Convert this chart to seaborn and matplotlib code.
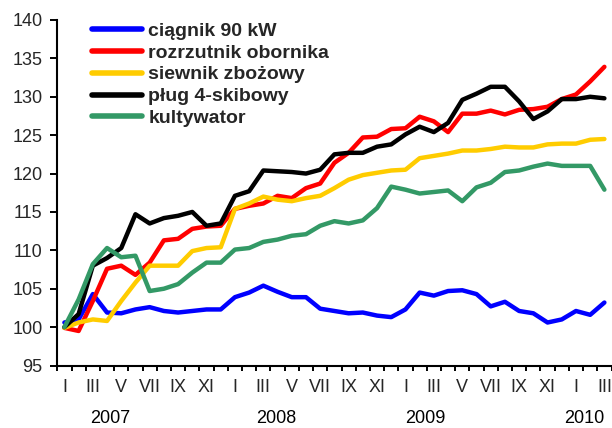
import numpy as np
import pandas as pd
import matplotlib
matplotlib.use("Agg")
import matplotlib.pyplot as plt
import seaborn as sns

# Monthly price indices of farm machinery, January 2007 = 100
series_names = ["ciągnik 90 kW", "rozrzutnik obornika", "siewnik zbożowy",
                "pług 4-skibowy", "kultywator"]

ciagnik = [100.6, 101.0, 104.3, 101.9, 101.8, 102.3, 102.6, 102.1, 101.9, 102.1,
           102.3, 102.3, 103.9, 104.5, 105.4, 104.6, 103.9, 103.9, 102.4, 102.1,
           101.8, 101.9, 101.5, 101.3, 102.3, 104.5, 104.1, 104.7, 104.8, 104.3,
           102.7, 103.3, 102.1, 101.8, 100.6, 101.0, 102.1, 101.6, 103.2]
rozrzutnik = [99.9, 99.5, 103.4, 107.6, 108.0, 106.8, 108.4, 111.3, 111.5, 112.8,
              113.1, 113.2, 115.4, 115.8, 116.1, 117.1, 116.8, 118.1, 118.7, 121.4,
              122.7, 124.7, 124.8, 125.8, 125.9, 127.4, 126.8, 125.4, 127.8, 127.8,
              128.2, 127.7, 128.3, 128.4, 128.7, 129.7, 130.3, 132.0, 133.9]
siewnik = [99.9, 100.6, 101.0, 100.8, 103.4, 105.8, 108.0, 108.0, 108.0, 109.9,
           110.3, 110.4, 115.4, 116.1, 117.0, 116.6, 116.4, 116.8, 117.1, 118.1,
           119.2, 119.8, 120.1, 120.4, 120.5, 122.0, 122.3, 122.6, 123.0, 123.0,
           123.2, 123.5, 123.4, 123.4, 123.8, 123.9, 123.9, 124.4, 124.5]
plug = [100.0, 101.7, 108.0, 109.0, 110.3, 114.7, 113.5, 114.2, 114.5, 115.0,
        113.2, 113.5, 117.1, 117.7, 120.4, 120.3, 120.2, 120.0, 120.5, 122.5,
        122.7, 122.7, 123.5, 123.8, 125.1, 126.1, 125.4, 126.6, 129.6, 130.4,
        131.3, 131.3, 129.4, 127.1, 128.1, 129.7, 129.7, 130.0, 129.8]
kultywator = [100.0, 103.6, 108.2, 110.3, 109.1, 109.3, 104.7, 105.0, 105.6, 107.1,
              108.4, 108.4, 110.1, 110.3, 111.1, 111.4, 111.9, 112.1, 113.2, 113.8,
              113.5, 113.9, 115.5, 118.3, 117.9, 117.4, 117.6, 117.8, 116.4, 118.2,
              118.8, 120.2, 120.4, 120.9, 121.3, 121.0, 121.0, 121.0, 117.9]

month_labels = ["I", "III", "V", "VII", "IX", "XI",
                "I", "III", "V", "VII", "IX", "XI",
                "I", "III", "V", "VII", "IX", "XI",
                "I", "III"]
year_labels = ["2007", "2008", "2009", "2010"]

colors = ["#0000FF", "#FF0000", "#FFCC00", "#000000", "#339966"]

values = [ciagnik, rozrzutnik, siewnik, plug, kultywator]
n = len(ciagnik)
df = pd.DataFrame({
    "miesiac": np.tile(np.arange(n), len(series_names)),
    "indeks": np.concatenate(values),
    "maszyna": np.repeat(series_names, n),
})

sns.set_style("ticks")
plt.rcParams["font.family"] = ["Liberation Sans", "DejaVu Sans"]

fig = plt.figure(figsize=(6.12, 4.28), dpi=100)
W, H = 612, 428
x0, x1, y0, y1 = 57.3, 611.5, 20.0, 365.5
ax = fig.add_axes([x0 / W, 1 - y1 / H, (x1 - x0) / W, (y1 - y0) / H])

sns.lineplot(data=df, x="miesiac", y="indeks", hue="maszyna",
             hue_order=series_names, palette=colors, linewidth=3.2,
             ax=ax, legend=True)
for line in ax.lines:
    line.set_solid_joinstyle("round")
    line.set_solid_capstyle("round")

ax.set_xlim(-0.5, n - 0.5)
ax.set_ylim(95, 140)
ax.set_yticks(np.arange(95, 141, 5))
ax.set_xlabel("")
ax.set_ylabel("")

# tick marks on month boundaries, labels centred on every second month
ax.set_xticks(np.arange(-0.5, n, 1.0))
ax.set_xticklabels([])
ax.set_xticks(np.arange(0, n, 2), minor=True)
ax.set_xticklabels(month_labels, minor=True)
ax.tick_params(axis="x", which="major", length=3.6, width=1.4, color="black")
ax.tick_params(axis="x", which="minor", length=0, pad=9.5, labelsize=13)
ax.tick_params(axis="y", length=4.7, width=1.4, pad=6.0, labelsize=13,
               color="black")

for side in ("top", "right"):
    ax.spines[side].set_visible(False)
for side in ("left", "bottom"):
    ax.spines[side].set_linewidth(1.5)
    ax.spines[side].set_color("black")

year_x = [3.2, 14.9, 25.4, 36.6]
trans = ax.get_xaxis_transform()
for xpos, lab in zip(year_x, year_labels):
    ax.text(xpos, -0.152, lab, transform=trans, ha="center", va="center",
            fontsize=13, color="black")

handles, labels = ax.get_legend_handles_labels()
leg = ax.legend(handles, labels, loc="upper left", bbox_to_anchor=(0.0625, 0.994),
                frameon=False, borderaxespad=0, borderpad=0,
                handlelength=2.6, handletextpad=0.3, labelspacing=0.22,
                prop={"weight": "bold", "size": 14})
for line in leg.get_lines():
    line.set_linewidth(4.0)

fig.savefig("out.png", dpi=100, facecolor="white")
